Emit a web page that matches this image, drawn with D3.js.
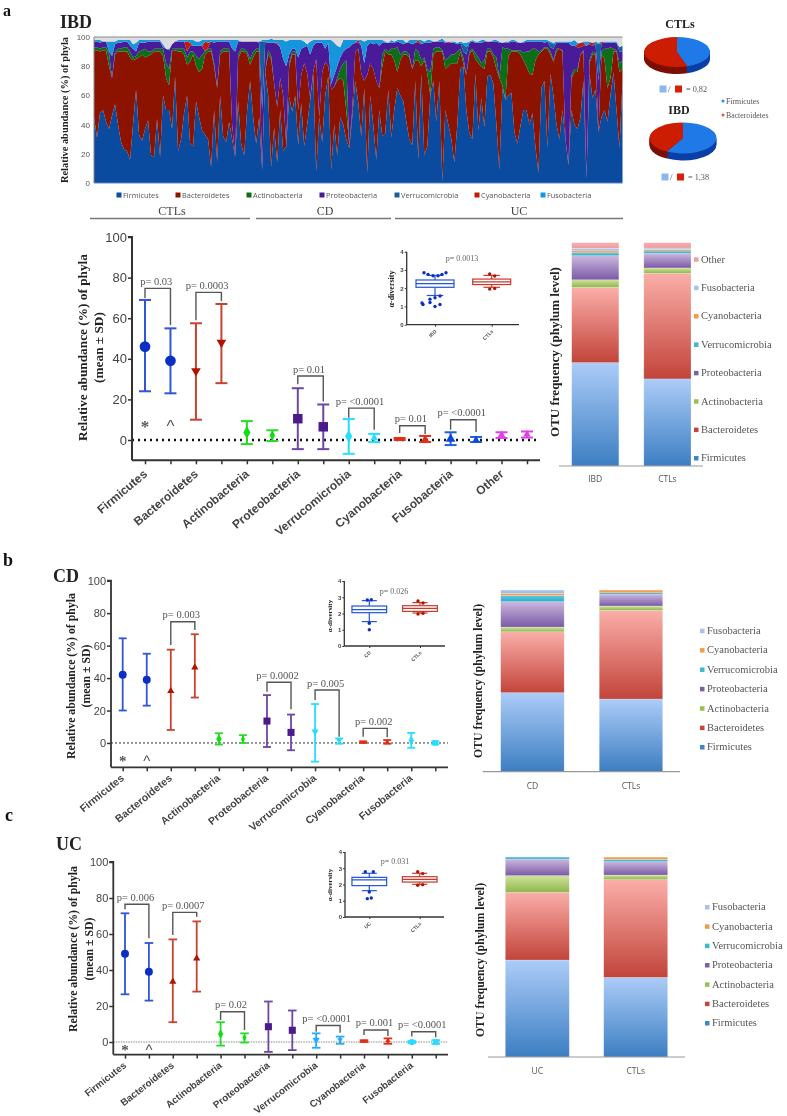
<!DOCTYPE html>
<html><head><meta charset="utf-8">
<script src="https://cdn.jsdelivr.net/npm/d3@7/dist/d3.min.js"></script>
<style>
html,body{margin:0;padding:0;background:#fff}
svg{display:block;filter:blur(0.55px)}
text{font-family:"Liberation Sans",sans-serif}
.serif{font-family:"Liberation Serif",serif}
.open{font-family:"Open Sans",sans-serif}
</style></head><body>
<svg id="c" width="787" height="1116"></svg>
<script>
// ---------- top area chart: cumulative top of each phylum per sample (%) ----------
const firmicutesTop=[45,31,48,50,42,37,46,54,40,28,23,22,16,40,64,33,29,37,43,19,18,44,18,60,50,50,37,73,22,30,48,60,27,25,56,45,36,33,30,11,50,15,60,32,28,42,30,18,56,27,19,50,70,45,27,45,9,
76,60,11,38,14,50,22,25,59,49,60,26,55,25,40,57,75,8,45,28,60,73,9,40,19,45,40,30,24,45,70,55,32,65,7,60,40,16,50,32,34,64,31,50,65,60,56,42,30,26,70,16,75,19,25,60,70,42,70,1,
50,40,30,14,40,78,80,50,34,30,75,36,58,38,73,74,68,40,9,65,57,60,62,35,27,39,50,50,40,48,25,7,65,70,24,75,60,40,30,50,30,12,50,40,37,45,70,3,75,58,64,35,45,50,42,60,76,50,24,70];
const bacteroidetesTop=[91,91,90,91,91,80,72,88,90,90,90,90,86,84,85,86,88,86,87,88,90,90,90,87,72,67,90,91,90,90,88,81,83,88,80,76,78,88,90,90,80,65,88,90,90,90,40,19,85,90,90,88,81,86,90,90,9,
76,88,85,68,52,72,60,27,80,88,88,50,74,82,75,58,76,85,45,76,83,80,64,66,70,72,70,50,26,50,90,92,75,70,74,82,78,70,65,80,90,88,88,84,76,84,88,88,86,78,84,84,80,84,75,60,88,90,90,90,
78,80,82,82,82,90,82,74,88,91,85,82,80,78,90,90,86,78,72,67,57,87,90,90,90,88,84,80,75,74,84,88,90,92,92,88,83,90,92,90,30,13,72,76,76,88,90,3,82,88,88,35,88,85,65,72,90,90,76,78];
const actinobacteriaTop=[93,93,92,93,93,89,72,90,92,92,93,93,90,86,87,90,91,92,90,90,92,92,92,92,82,78,92,92,92,92,92,86,90,90,87,85,88,90,92,92,82,66,90,92,92,92,40,19,88,92,92,90,85,90,92,92,9,
76,91,87,68,52,72,60,27,82,90,90,50,74,82,75,58,76,85,45,76,83,80,64,66,72,78,82,84,26,50,90,92,75,70,74,82,78,70,65,88,92,90,92,92,93,88,90,90,88,78,92,90,84,86,78,76,92,93,93,91,
84,86,88,88,90,92,86,74,90,92,89,86,82,84,92,92,88,86,72,93,92,92,91,91,91,91,89,90,90,92,92,90,91,93,93,90,84,92,92,91,30,13,74,78,78,88,91,3,84,90,89,35,90,92,92,93,92,91,82,84];
const proteobacteriaTop=[97,97,96,97,97,90,87,95,96,96,97,97,94,92,90,96,96,96,97,97,97,97,97,93,92,91,95,97,97,97,97,90,94,94,94,94,94,90,93,97,96,97,97,97,97,97,92,90,97,97,97,97,97,97,97,96,50,
96,96,96,96,95,93,85,80,88,92,92,86,92,93,94,88,94,96,96,96,92,96,68,74,80,86,90,92,93,95,96,96,94,82,94,96,95,96,94,96,96,96,96,96,97,96,95,96,96,95,96,96,95,96,96,96,97,97,97,97,
96,96,96,96,95,96,90,88,96,97,96,96,96,97,97,97,97,97,96,96,96,96,97,97,96,96,96,97,97,97,97,97,97,96,97,93,92,96,96,96,96,96,94,94,93,93,94,94,95,94,95,70,96,96,96,96,96,96,90,90];
const verrucomicrobiaBand=[0,0,0,0,0,0,0,0,0,0,0,0,0,0,0,0,0,0,0,0,0,0,0,0,0,0,0,0,0,0,0,0,0,0,0,0,0,0,0,0,0,0,0,0,0,0,0,0,0,0,0,0,0,0,0,1,47,
1,0,0,0,0,0,0,0,0,0,0,0,0,0,0,0,0,0,0,0,0,0,0,0,0,0,0,0,0,0,0,0,0,0,0,0,0,0,0,0,0,0,0,0,0,0,0,0,0,0,0,0,0,0,0,0,0,0,0,0,
0,0,0,0,0,0,5,5,0,0,0,0,0,0,0,0,0,0,0,0,0,0,0,0,0,0,0,0,0,0,0,0,0,0,0,3,3,0,0,0,0,0,0,0,0,0,0,0,0,0,1,25,0,0,0,0,0,0,3,4];
const cyanobacteriaBand=[0,0,0,0,0,0,0,0,0,0,0,0,0,0,0,0,0,0,0,0,0,0,0,0,0,0,0,0,0,0,0,7,2,0,0,0,0,7,3,0,0,0,0,0,0,0,0,0,0,0,0,0,0,0,0,0,0,
0,0,0,0,1,0,0,0,0,0,0,0,0,0,0,0,0,0,0,0,0,0,0,0,0,0,0,0,0,0,0,2,0,0,0,0,0,0,0,0,0,0,0,0,0,0,0,0,0,0,0,2,0,0,0,0,0,0,0,0,
0,1,0,0,0,0,0,0,0,0,0,0,0,0,0,0,0,0,0,0,0,0,0,0,0,0,0,0,0,0,0,0,0,0,0,0,0,0,0,0,0,0,0,0,2,3,2,0,1,2,0,0,1,0,0,0,0,0,0,0];
const fusobacteriaTop=[98,98,98,97,97,97,97,97,98,98,98,98,98,95,96,98,98,98,98,98,98,98,98,95,92,92,94,96,98,98,98,98,98,98,97,97,98,98,98,98,98,98,98,98,98,98,98,98,98,97,96,97,95,97,97,97,98,
98,98,99,98,98,98,98,97,98,98,98,98,98,97,95,97,98,98,98,98,98,98,98,96,94,93,98,98,98,98,98,98,98,97,98,98,98,98,98,98,97,95,98,97,98,98,98,96,98,98,98,98,98,97,98,98,97,97,98,99,
97,97,97,97,96,97,96,96,97,98,97,97,98,98,97,97,98,98,97,96,97,97,98,98,97,96,97,98,98,98,98,98,98,98,98,97,96,97,97,97,97,97,97,98,96,96,97,97,97,96,97,96,97,97,97,97,97,97,92,90];
const areaLegend=["Firmicutes","Bacteroidetes","Actinobacteria","Proteobacteria","Verrucomicrobia","Cyanobacteria","Fusobacteria"];
const areaTicks=[0,20,40,60,80,100];
const groupNames=["CTLs","CD","UC"];

// ---------- pies ----------
const pieCTL=[45,55], pieIBD=[58,42];

// ---------- mean / SD plots ----------
const phylaA=["Firmicutes","Bacteroidetes","Actinobacteria","Proteobacteria","Verrucomicrobia","Cyanobacteria","Fusobacteria","Other"];
const phylaBC=phylaA.slice(0,7);
const meanA=[46,39,34,48,3.7,2.3,10.5,6.5,1.8,1,0.5,0.5,0.5,0,2.5,2.8];
const highA=[69,55,57.5,67,9.3,4.8,25.5,17.5,10.3,3,1,2,3.8,1.5,3.8,4.2];
const lowA=[24,23,10,28,-2,-0.5,-4.5,-4.5,-6.8,-1,0,-1,-2.5,-1,1,1.2];
const meanB=[42,39,32,46.5,2.5,2.3,13.5,6.5,7,1.5,0.5,0.5,1.5,0];
const highB=[64.5,55,57.5,67,6,4.8,29.5,17.5,24,2.8,1,1.8,6.2,1];
const lowB=[20,23,8,28,-1,0,-2.5,-4.5,-11.5,-0.5,0,-0.5,-3,-0.8];
const meanC=[49,39,33.5,46.5,4.5,2.3,8.5,6.5,1.2,1.2,0.5,0.7,0,0];
const highC=[71.5,55,57,67,11,4.8,22.5,17.5,4.8,3,1,2,0.5,1];
const lowC=[26.5,23,11,28,-2,-0.3,-5.5,-4.5,-3.2,-1,0,-1,-0.5,-1];
const pairsA=[[0,1,74.7,70,56.6,"p= 0.03"],[2,3,72.7,59,68.5,"p= 0.0003"],[6,7,31.5,27.5,19,"p= 0.01"],[8,9,15.7,11,5,"p= <0.0001"],[10,11,7,3.4,3,"p= 0.01"],[12,13,10,5,4,"p= <0.0001"]];
const pairsB=[[2,3,74.7,60.4,69.6,"p= 0.003"],[6,7,37.4,31.6,20.8,"p= 0.0002"],[8,9,32.6,26.5,3.9,"p= 0.005"],[10,11,9,3.9,3.5,"p= 0.002"]];
const pairsC=[[0,1,76.5,73.7,57.6,"p= 0.006"],[2,3,72,59.4,69.6,"p= 0.0007"],[4,5,16.8,12.2,6.7,"p= 0.02"],[8,9,9.2,5.7,5.2,"p= <0.0001"],[10,11,6.7,3.9,3.3,"p= 0.001"],[12,13,5.7,3,2.6,"p= <0.0001"]];
const valueTicks=[0,20,40,60,80,100];

// ---------- alpha-diversity boxes: q1, median, q3, whisker low, whisker high ----------
const boxIBD=[2.05,2.25,2.45,1.6,2.7], boxCD=[2.05,2.24,2.46,1.5,2.79], boxUC=[1.93,2.28,2.44,1.62,2.69];
const boxCTLa=[2.2,2.35,2.5,2.05,2.7], boxCTLb=[2.13,2.32,2.48,2.03,2.67], boxCTLc=[2.15,2.32,2.48,2.01,2.69];
const outIBD=[2.85,2.76,2.68,2.68,2.76,2.85,1.4,1.48,1.57,1.19,1.11,1.22,1,1.11];
const outJitIBD=[-11,-7,-2,3,7,11,-5,0,5,-13,-12,-5,0,5];
const outCTLa=[2.78,2.67,1.95,1.99], outCTLb=[2.77,2.65,1.97,2.01], outCTLc=[2.79,2.67,1.95,1.99];
const outJitCTL=[-2,3,-2,3];
const outCD=[2.83,2.85,1.4,1], outJitCD=[-2,2,0,0];
const outUC=[2.79,2.79,1.54,1.13,1.17], outJitUC=[-4,4,0,-2,2];
const alphaTicks=[0,1,2,3,4];

// ---------- OTU stacks (cumulative %) ----------
const otuOrderA=["Firmicutes","Bacteroidetes","Actinobacteria","Proteobacteria","Verrucomicrobia","Cyanobacteria","Fusobacteria","Other"];
const otuIBD=[46.3,80,83.4,94.2,95.5,96.4,97.5,100];
const otuCTLa=[39,86.3,88.7,95.2,96.3,97,97.6,100];
const otuCD=[43.5,77,79.6,93.6,97,98.2,100];
const otuCTLb=[40,88.8,91.2,97.6,98.5,100,100];
const otuUC=[48.5,82.3,90.7,99,100,100,100];
const otuCTLc=[39.8,88.7,91,97.7,98.8,100,100];

// ========== styles ==========
const areaCols=["#0a4ba0","#8c1300","#0c6e16","#4a1b98","#11609f","#c21a08","#1596dc"];
const otuTop=["#acccf8","#fbaea9","#cfe39a","#cbb8de","#5fcbe2","#f9b070","#b0ccf2","#f6b0b0"];
const otuBot=["#3c7ec2","#c2443a","#8fb64e","#7a5aa6","#30a8c8","#f09040","#98b8e4","#ee9c9c"];
const otuSw=["#3f85cc","#c9453c","#9bc04f","#7d5fa6","#3fb8d4","#f59a45","#a6c4ec","#f0a0a0"];
const blue="#2f55d8",blueM="#0b2fc4",red="#c8432f",redM="#b01400",green="#25dd25",purple="#6f45a5",purpleM="#4b1b8b",cyan="#25ddff",mag="#e040e8",sky="#22aaff";
const lineColA=[blue,blue,red,red,green,green,purple,purple,cyan,cyan,"#e0301a","#e0301a","#1e5fe0","#1e5fe0",mag,mag];
const markColA=[blueM,blueM,redM,redM,"#11dd11","#11dd11",purpleM,purpleM,cyan,cyan,"#e82a10","#e82a10","#0f45e0","#0f45e0",mag,mag];
const symA=["circle","circle","down","down","diamond","diamond","square","square","diamond","up","rect","up","up","up","up","up"];
const lineColB=[blue,blue,red,red,green,green,purple,purple,cyan,cyan,"#e0301a","#e0301a",cyan,cyan];
const markColB=[blueM,blueM,redM,redM,"#11dd11","#11dd11",purpleM,purpleM,cyan,cyan,"#e82a10","#e82a10",cyan,cyan];
const symB=["circle","circle","up","up","diamond","diamond","square","square","down","down","rect","up","diamond","square"];
const lineColC=[blue,blue,red,red,green,green,purple,purple,sky,sky,"#e0301a","#e0301a",cyan,cyan];
const markColC=[blueM,blueM,redM,redM,"#11dd11","#11dd11",purpleM,purpleM,sky,sky,"#e82a10","#e82a10",cyan,cyan];
const symC=["circle","circle","up","up","diamond","diamond","square","square","down","down","rect","up","circle","square"];

const svg=d3.select("#c"), defs=svg.append("defs");
otuTop.forEach((t,i)=>{
  const g=defs.append("linearGradient").attr("id","otu"+i).attr("x1",0).attr("y1",0).attr("x2",0).attr("y2",1);
  g.append("stop").attr("offset",0).attr("stop-color",t);
  g.append("stop").attr("offset",1).attr("stop-color",otuBot[i]);
});
const serif=(x,y,s,size,o={})=>{
  const t=svg.append("text").attr("class","serif").attr("x",x).attr("y",y).attr("font-size",size)
   .attr("fill",o.fill||"#222").attr("font-weight",o.bold?"bold":"normal").attr("text-anchor",o.anchor||"start").text(s);
  if(o.rot!==undefined)t.attr("transform",`rotate(${o.rot} ${x} ${y})`);
  return t;
};

// ========== panel a: area ==========
(function(){
  const x=d3.scaleLinear().domain([0,firmicutesTop.length-1]).range([94,622.5]);
  const y=d3.scaleLinear().domain([0,100]).range([183,37]);
  const n=firmicutesTop.length;
  const tops=[];
  d3.range(n).forEach(i=>{
    const f=firmicutesTop[i];
    const b=Math.max(f,bacteroidetesTop[i]);
    const a=Math.max(b,actinobacteriaTop[i]);
    const p=Math.max(a,proteobacteriaTop[i]);
    const v=p+verrucomicrobiaBand[i];
    const c=v+cyanobacteriaBand[i];
    const u=Math.max(c,fusobacteriaTop[i]);
    tops.push([0,f,b,a,p,v,c,u,100]);
  });
  const idx=d3.range(n);
  const cols=[...areaCols,"#dedcdc"];
  cols.forEach((col,k)=>{
    svg.append("path").datum(idx).attr("fill",col)
      .attr("d",d3.area().x(i=>x(i)).y0(i=>y(tops[i][k])).y1(i=>y(tops[i][k+1])));
  });
  svg.append("path").attr("fill","none").attr("stroke","#8a8a8a").attr("stroke-width",1)
    .attr("d",`M${x(0)},${y(0)}V${y(100)}H${x(n-1)}`);
  svg.append("line").attr("x1",x(0)).attr("x2",x(n-1)).attr("y1",y(0)).attr("y2",y(0)).attr("stroke","#5f88c0").attr("stroke-width",1);
  const ax=svg.append("g").attr("transform",`translate(${x(0)},0)`).call(d3.axisLeft(y).tickValues(areaTicks).tickSize(0).tickPadding(4));
  ax.select(".domain").remove();
  ax.selectAll("text").attr("font-size",8).attr("fill","#555").attr("font-family","Liberation Sans");
  serif(68,110,"Relative abundance (%) of phyla",10.4,{bold:true,anchor:"middle",rot:-90});
  serif(3,16,"a",16,{bold:true,fill:"#111"});
  serif(60,28,"IBD",18,{bold:true,fill:"#222"});
  const legX=[119,178,249,322,397,477,543];
  areaLegend.forEach((l,i)=>{
    svg.append("rect").attr("x",legX[i]-2.5).attr("y",192.5).attr("width",5).attr("height",5).attr("fill",areaCols[i]);
    svg.append("text").attr("class","open").attr("x",legX[i]+4).attr("y",198).attr("font-size",7.4).attr("fill","#555").text(l);
  });
  const spans=[[90,250],[256,391],[395,623]], mids=[172,325,519];
  groupNames.forEach((g,i)=>{
    serif(mids[i],215,g,12,{anchor:"middle",fill:"#444"});
    svg.append("line").attr("x1",spans[i][0]).attr("x2",spans[i][1]).attr("y1",218.5).attr("y2",218.5).attr("stroke","#777").attr("stroke-width",1.6);
  });
})();

// ========== pies ==========
function pie(vals,cx,cy,rx,ry,depth){
  const slices=d3.pie().sort(null)(vals);
  const arc=d3.arc().innerRadius(0).outerRadius(1);
  const side=["#0b3fa6","#7c1005"], top=["#1f7ae8","#cc1c02"];
  for(let d=depth;d>=0;d--){
    const g=svg.append("g").attr("transform",`translate(${cx},${cy+d}) scale(${rx},${ry})`);
    g.selectAll("path").data(slices).enter().append("path").attr("d",arc)
      .attr("fill",(s,i)=>d===0?top[i]:side[i]);
  }
}
pie(pieCTL,677,52,33,15,7);
pie(pieIBD,683,138,33.5,15.5,7);
serif(680,28,"CTLs",12,{bold:true,anchor:"middle"});
serif(679,114,"IBD",12,{bold:true,anchor:"middle"});
[[663,89,"= 0,82"],[665,177,"= 1,38"]].forEach(([px,py,t])=>{
  svg.append("rect").attr("x",px-3.5).attr("y",py-3.5).attr("width",7).attr("height",7).attr("fill","#8ab8ec");
  serif(px+5,py+3,"/",9,{fill:"#555"});
  svg.append("rect").attr("x",px+12).attr("y",py-3.5).attr("width",7).attr("height",7).attr("fill","#d81e06");
  serif(px+23,py+3,t,8.2,{fill:"#555"});
});
[[101,"Firmicutes","#2a8ae8"],[115,"Bacteroidetes","#e85050"]].forEach(([py,t,c])=>{
  svg.append("circle").attr("cx",723).attr("cy",py).attr("r",1.5).attr("fill",c);
  serif(726,py+2.5,t,7.8,{fill:"#555"});
});

// ========== mean / SD panels ==========
const symScale={circle:1,square:1,diamond:0.5,up:0.45,down:0.45,rect:0.6};
function meanPanel(o){
  const pos=d3.range(o.mean.length);
  const x=d3.scalePoint().domain(pos).range([o.x0,o.x1]);
  const y=d3.scaleLinear().domain([o.bottom,100]).range([o.yBottom,o.yTop]);
  const g=svg.append("g");
  g.append("line").attr("x1",o.axisX).attr("x2",o.right).attr("y1",y(0)).attr("y2",y(0))
    .attr("stroke",o.zeroCol).attr("stroke-width",o.zeroW).attr("stroke-dasharray",o.zeroDash);
  const ay=g.append("g").attr("transform",`translate(${o.axisX},0)`).call(d3.axisLeft(y).tickValues(valueTicks).tickSize(4).tickPadding(1));
  ay.selectAll("text").attr("font-size",o.tickFont).attr("fill","#444").attr("font-family","Liberation Sans");
  ay.selectAll("line").attr("stroke","#333").attr("stroke-width",1.5);
  ay.select(".domain").attr("stroke","#333").attr("stroke-width",o.axisW).attr("d",`M0,${o.yBottom}V${o.yTop}H-4`);
  const ax=g.append("g").attr("transform",`translate(0,${o.yBottom})`).call(d3.axisBottom(x).tickSize(4).tickFormat(""));
  ax.selectAll("line").attr("stroke","#333").attr("stroke-width",1.5);
  ax.select(".domain").attr("stroke","#333").attr("stroke-width",o.axisW).attr("d",`M${o.axisX},0H${o.right}`);
  o.labels.forEach((l,i)=>{
    const px=x(i*2)+o.labDx, py=o.yBottom+o.labDy;
    g.append("text").attr("x",px).attr("y",py).attr("text-anchor","end").attr("font-size",o.labFont).attr("font-weight","bold")
      .attr("fill","#444").attr("transform",`rotate(${o.labRot} ${px} ${py})`).text(l);
  });
  pos.forEach(i=>{
    const c=o.lineCol[i], px=x(i);
    const e=g.append("g").attr("stroke",c).attr("stroke-width",o.errW).attr("fill","none");
    e.append("line").attr("x1",px).attr("x2",px).attr("y1",y(o.high[i])).attr("y2",y(o.low[i]));
    [o.high[i],o.low[i]].forEach(v=>e.append("line").attr("x1",px-o.cap).attr("x2",px+o.cap).attr("y1",y(v)).attr("y2",y(v)));
    const big=Math.abs(o.high[i]-o.low[i])>6?1:0.6;
    const types={circle:d3.symbolCircle,square:d3.symbolSquare,diamond:d3.symbolDiamond,up:d3.symbolTriangle,down:d3.symbolTriangle,rect:d3.symbolSquare};
    const s=o.sym[i];
    g.append("path").attr("d",d3.symbol().type(types[s]).size(o.markSize*big*symScale[s]))
      .attr("fill",o.markCol[i])
      .attr("transform",`translate(${px},${y(o.mean[i])})`+(s==="down"?" rotate(180)":"")+(s==="rect"?" scale(1.2,0.6)":""));
  });
  o.pairs.forEach(([a,b,t,l,r,s])=>{
    g.append("path").attr("fill","none").attr("stroke","#555").attr("stroke-width",1.4)
      .attr("d",`M${x(a)},${y(l)}V${y(t)}H${x(b)}V${y(r)}`);
    serif((x(a)+x(b))/2-1.5,y(t)-3.5,s,o.pFont,{anchor:"middle",fill:"#555"});
  });
  serif(x(0),o.markY,"*",o.starFont,{anchor:"middle",fill:"#555",bold:true});
  svg.append("text").attr("x",x(1)).attr("y",o.markY).attr("text-anchor","middle").attr("font-size",o.starFont).attr("fill","#555").text("^");
  serif(o.t1x,o.tcy,"Relative abundance (%) of phyla",o.titleFont,{bold:true,anchor:"middle",rot:-90});
  serif(o.t2x,o.tcy,"(mean ± SD)",o.titleFont,{bold:true,anchor:"middle",rot:-90});
}
meanPanel({mean:meanA,high:highA,low:lowA,lineCol:lineColA,markCol:markColA,sym:symA,pairs:pairsA,labels:phylaA,
  x0:145,x1:527,bottom:-10,yBottom:460.3,yTop:237,axisX:132,right:540,zeroCol:"#111",zeroW:2.5,zeroDash:"2 4",
  tickFont:13,axisW:2,labFont:12,labRot:-40,labDx:3,labDy:15,errW:2,cap:6,markSize:90,pFont:10.5,markY:432,starFont:17,
  t1x:87,t2x:103,tcy:347.5,titleFont:13.3});
meanPanel({mean:meanB,high:highB,low:lowB,lineCol:lineColB,markCol:markColB,sym:symB,pairs:pairsB,labels:phylaBC,
  x0:122.7,x1:435.3,bottom:-15,yBottom:767.3,yTop:580.7,axisX:111,right:448,zeroCol:"#333",zeroW:1,zeroDash:"2 2",
  tickFont:11,axisW:1.8,labFont:10.5,labRot:-39,labDx:2,labDy:12,errW:1.8,cap:4,markSize:50,pFont:10.5,markY:766,starFont:15,
  t1x:74.5,t2x:90,tcy:676,titleFont:11.8});
meanPanel({mean:meanC,high:highC,low:lowC,lineCol:lineColC,markCol:markColC,sym:symC,pairs:pairsC,labels:phylaBC,
  x0:125,x1:435.7,bottom:-7,yBottom:1054.6,yTop:862,axisX:113.3,right:448,zeroCol:"#888",zeroW:1,zeroDash:"1.5 1",
  tickFont:11,axisW:1.8,labFont:9.8,labRot:-38,labDx:2,labDy:12,errW:1.8,cap:4.3,markSize:50,pFont:10.5,markY:1055,starFont:15,
  t1x:77,t2x:92.5,tcy:949,titleFont:11.8});
serif(3,566,"b",18,{bold:true,fill:"#111"});
serif(53,582,"CD",18,{bold:true});
serif(5,821,"c",18,{bold:true,fill:"#111"});
serif(56,850,"UC",18,{bold:true});

// ========== alpha insets ==========
function inset(o){
  const x=d3.scalePoint().domain(o.cats).range([o.c0,o.c1]);
  const y=d3.scaleLinear().domain([0,4]).range([o.y0,o.y4]);
  const g=svg.append("g");
  const ay=g.append("g").attr("transform",`translate(${o.ax},0)`).call(d3.axisLeft(y).tickValues(alphaTicks).tickSize(2).tickPadding(1).tickFormat(d3.format("d")));
  ay.selectAll("text").attr("font-size",6).attr("fill","#444").attr("font-weight","bold");
  ay.selectAll("line").attr("stroke","#333");
  ay.select(".domain").attr("stroke","#333").attr("stroke-width",1.3).attr("d",`M0,${o.y0}V${o.y4}`);
  const ax=g.append("g").attr("transform",`translate(0,${o.y0})`).call(d3.axisBottom(x).tickSize(2).tickFormat(""));
  ax.selectAll("line").attr("stroke","#333");
  ax.select(".domain").attr("stroke","#333").attr("stroke-width",1.3).attr("d",`M${o.ax},0H${o.right}`);
  o.cats.forEach((c,i)=>{
    const px=x(c)+2,py=o.y0+7;
    g.append("text").attr("x",px).attr("y",py).attr("text-anchor","end").attr("font-size",5).attr("font-weight","bold").attr("fill","#555")
      .attr("transform",`rotate(-45 ${px} ${py})`).text(c);
    const b=o.box[i],col=i?"#c8392b":"#2454d8",dark=i?"#b01400":"#0b2fc4",cx=x(c),h=o.w/2;
    const sw=g.append("g").attr("stroke",col).attr("fill","none").attr("stroke-width",1.2);
    sw.append("line").attr("x1",cx).attr("x2",cx).attr("y1",y(b[3])).attr("y2",y(b[4]));
    [b[3],b[4]].forEach(v=>sw.append("line").attr("x1",cx-h/2.3).attr("x2",cx+h/2.3).attr("y1",y(v)).attr("y2",y(v)));
    sw.append("rect").attr("x",cx-h).attr("width",o.w).attr("y",y(b[2])).attr("height",y(b[0])-y(b[2])).attr("fill","#fff");
    sw.append("line").attr("x1",cx-h).attr("x2",cx+h).attr("y1",y(b[1])).attr("y2",y(b[1]));
    o.out[i].forEach((v,k)=>g.append("circle").attr("cx",cx+o.jit[i][k]).attr("cy",y(v)).attr("r",1.7).attr("fill",dark));
  });
  serif(o.lx,o.ly,"α-diversity",o.lf,{bold:true,anchor:"middle",rot:-90});
  serif(o.px,o.py,o.p,8,{anchor:"middle",fill:"#666"});
}
inset({cats:["IBD","CTLs"],c0:435,c1:491.7,y0:324.7,y4:251.7,ax:406.7,right:519,w:38,box:[boxIBD,boxCTLa],out:[outIBD,outCTLa],jit:[outJitIBD,outJitCTL],lx:394,ly:289,lf:8,px:462,py:260.5,p:"p= 0.0013"});
inset({cats:["CD","CTLs"],c0:369.3,c1:420,y0:646,y4:581,ax:344.3,right:445,w:34.7,box:[boxCD,boxCTLb],out:[outCD,outCTLb],jit:[outJitCD,outJitCTL],lx:332,ly:616,lf:7,px:394,py:594,p:"p= 0.026"});
inset({cats:["UC","CTLs"],c0:369.3,c1:419.7,y0:917,y4:852,ax:345,right:444,w:34.7,box:[boxUC,boxCTLc],out:[outUC,outCTLc],jit:[outJitUC,outJitCTL],lx:332,ly:885,lf:7,px:395,py:864,p:"p= 0.031"});

// ========== OTU stacks ==========
function otu(o){
  const y=d3.scaleLinear().domain([0,100]).range([o.base,o.top]);
  const x=d3.scaleBand().domain(o.cats).range([o.b0,o.b1]).paddingInner(o.gap);
  o.cats.forEach((c,i)=>{
    const st=o.vals[i];
    st.forEach((v,k)=>{
      const prev=k?st[k-1]:0;
      if(v-prev<=0)return;
      svg.append("rect").attr("x",x(c)).attr("width",x.bandwidth()).attr("y",y(v)).attr("height",y(prev)-y(v))
        .attr("fill",`url(#otu${k})`).attr("stroke","#ffffff").attr("stroke-opacity",0.35).attr("stroke-width",0.6);
    });
    svg.append("text").attr("class","open").attr("x",x(c)+x.bandwidth()/2).attr("y",o.catY).attr("text-anchor","middle")
      .attr("font-size",o.catF).attr("fill","#555").text(c);
  });
  svg.append("line").attr("x1",o.a0).attr("x2",o.a1).attr("y1",o.base).attr("y2",o.base).attr("stroke","#999").attr("stroke-width",1.2);
  serif(o.tx,o.ty,o.title,o.tf,{bold:true,anchor:"middle",rot:-90});
  const ly=d3.scalePoint().domain(d3.range(o.legend.length)).range([o.l0,o.l1]);
  o.legend.forEach((l,i)=>{
    const k=o.legend.length-1-i;
    svg.append("rect").attr("x",o.lx-2).attr("y",ly(i)-2).attr("width",4.5).attr("height",4.5).attr("fill",otuSw[k]);
    serif(o.lx+5,ly(i)+3.3,l,10.5,{fill:"#555"});
  });
}
otu({cats:["IBD","CTLs"],vals:[otuIBD,otuCTLa],b0:571.7,b1:691,gap:0.346,base:466,top:242.7,a0:559,a1:703,catY:482,catF:8.5,
  tx:559,ty:352,title:"OTU frequency (phylum level)",tf:13,lx:696,l0:259.3,l1:458,legend:otuOrderA.slice().reverse()});
otu({cats:["CD","CTLs"],vals:[otuCD,otuCTLb],b0:500.7,b1:662.7,gap:0.356,base:771.7,top:590,a0:482.7,a1:680,catY:789,catF:8.5,
  tx:482,ty:681,title:"OTU frequency (phylum level)",tf:11.8,lx:702,l0:630.7,l1:747,legend:otuOrderA.slice(0,7).reverse()});
otu({cats:["UC","CTLs"],vals:[otuUC,otuCTLc],b0:505.3,b1:667.7,gap:0.35,base:1057,top:857,a0:488,a1:685,catY:1074,catF:8.5,
  tx:484,ty:960,title:"OTU frequency (phylum level)",tf:11.8,lx:707,l0:907,l1:1023,legend:otuOrderA.slice(0,7).reverse()});
</script></body></html>
